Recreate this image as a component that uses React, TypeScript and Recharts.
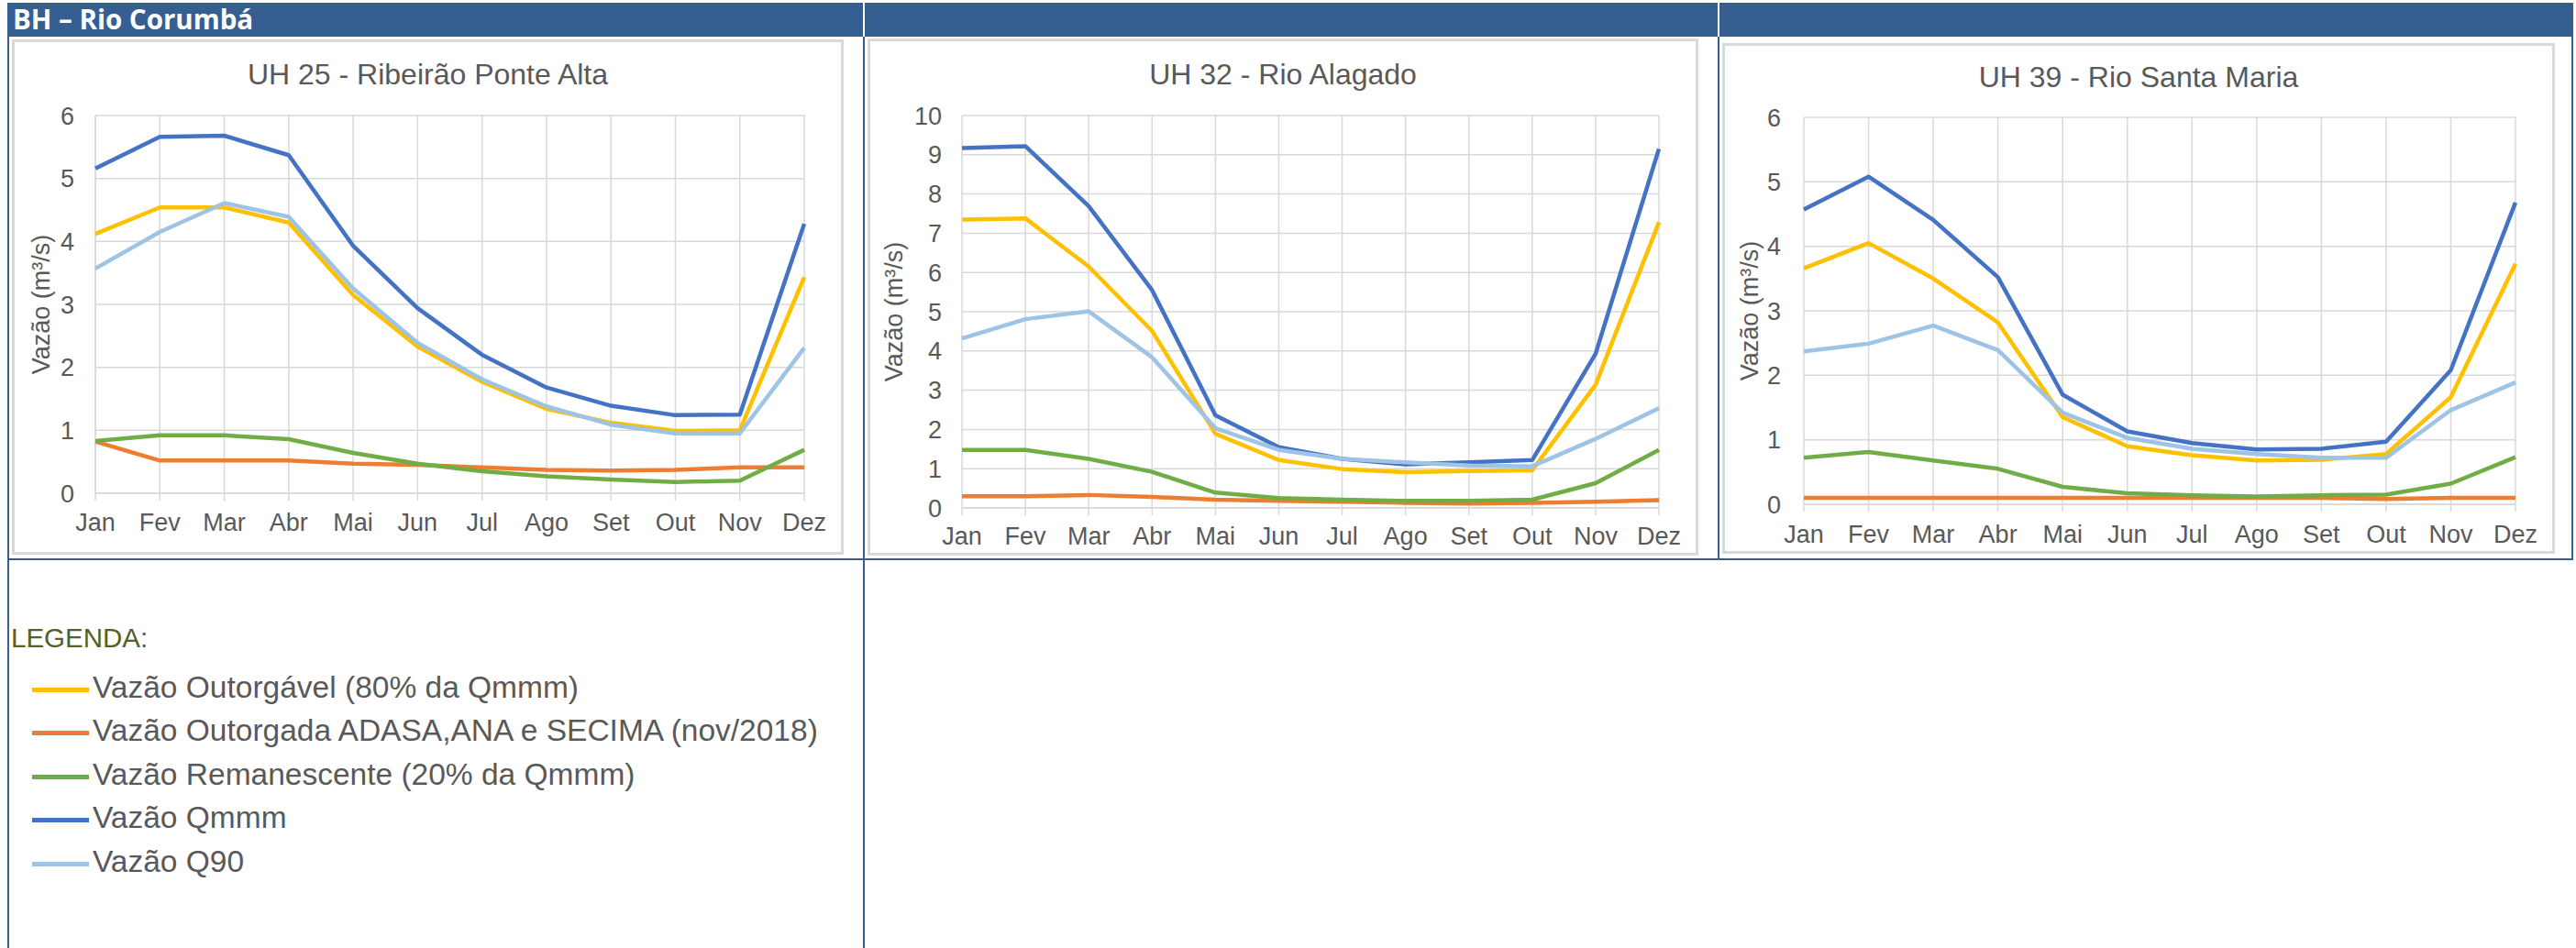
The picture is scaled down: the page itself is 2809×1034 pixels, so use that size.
import React from 'react';
import { LineChart, Line, XAxis, YAxis, CartesianGrid } from 'recharts';

// Months of the hydrological year
const months = ['Jan', 'Fev', 'Mar', 'Abr', 'Mai', 'Jun', 'Jul', 'Ago', 'Set', 'Out', 'Nov', 'Dez'];

// Series legend labels and colours
const seriesKeys = ['outorgavel', 'outorgada', 'remanescente', 'qmmm', 'q90'];
const seriesNames = [
  'Vazão Outorgável (80% da Qmmm)',
  'Vazão Outorgada ADASA,ANA e SECIMA (nov/2018)',
  'Vazão Remanescente (20% da Qmmm)',
  'Vazão Qmmm',
  'Vazão Q90',
];
const seriesColors = ['#FFC000', '#ED7D31', '#70AD47', '#4472C4', '#9DC3E6'];

// UH 25 - Ribeirão Ponte Alta (m³/s)
const uh25Outorgavel = [4.12, 4.54, 4.54, 4.3, 3.15, 2.33, 1.77, 1.34, 1.12, 0.99, 1.0, 3.43];
const uh25Outorgada = [0.82, 0.52, 0.52, 0.52, 0.47, 0.45, 0.41, 0.37, 0.36, 0.37, 0.41, 0.41];
const uh25Remanescente = [0.83, 0.92, 0.92, 0.86, 0.64, 0.47, 0.35, 0.27, 0.22, 0.18, 0.2, 0.69];
const uh25Qmmm = [5.16, 5.66, 5.68, 5.37, 3.93, 2.94, 2.2, 1.68, 1.39, 1.24, 1.25, 4.28];
const uh25Q90 = [3.57, 4.15, 4.61, 4.39, 3.25, 2.39, 1.81, 1.38, 1.09, 0.95, 0.95, 2.31];

// UH 32 - Rio Alagado (m³/s)
const uh32Outorgavel = [7.35, 7.38, 6.15, 4.51, 1.89, 1.22, 0.99, 0.91, 0.94, 0.96, 3.14, 7.28];
const uh32Outorgada = [0.3, 0.3, 0.33, 0.28, 0.21, 0.18, 0.16, 0.13, 0.11, 0.13, 0.16, 0.2];
const uh32Remanescente = [1.48, 1.48, 1.25, 0.92, 0.39, 0.25, 0.21, 0.18, 0.18, 0.21, 0.63, 1.48];
const uh32Qmmm = [9.17, 9.22, 7.69, 5.55, 2.36, 1.55, 1.25, 1.11, 1.16, 1.22, 3.93, 9.15];
const uh32Q90 = [4.32, 4.81, 5.01, 3.84, 2.03, 1.48, 1.25, 1.16, 1.08, 1.06, 1.76, 2.54];

// UH 39 - Rio Santa Maria (m³/s)
const uh39Outorgavel = [3.66, 4.05, 3.5, 2.82, 1.35, 0.9, 0.76, 0.68, 0.69, 0.78, 1.66, 3.73];
const uh39Outorgada = [0.1, 0.1, 0.1, 0.1, 0.1, 0.1, 0.1, 0.1, 0.1, 0.08, 0.1, 0.1];
const uh39Remanescente = [0.72, 0.81, 0.68, 0.55, 0.27, 0.17, 0.14, 0.12, 0.14, 0.15, 0.32, 0.73];
const uh39Qmmm = [4.57, 5.08, 4.41, 3.52, 1.7, 1.13, 0.95, 0.85, 0.86, 0.97, 2.08, 4.68];
const uh39Q90 = [2.37, 2.49, 2.77, 2.39, 1.42, 1.03, 0.86, 0.78, 0.72, 0.72, 1.46, 1.89];

// Axis ticks
const ticksSix = [0, 1, 2, 3, 4, 5, 6];
const ticksTen = [0, 1, 2, 3, 4, 5, 6, 7, 8, 9, 10];

const buildRows = (series: number[][]) =>
  months.map((m, i) => {
    const row: Record<string, any> = { month: m };
    seriesKeys.forEach((k, s) => {
      row[k] = series[s][i];
    });
    return row;
  });

const FONT = '"Liberation Sans", Arial, sans-serif';
const GRID = '#d9d9d9';
const TEXT = '#595959';
const FRAME = '#365F91';

type Box = { x: number; y: number; w: number; h: number };
type Plot = { l: number; t: number; r: number; b: number };

type ChartProps = {
  title: string;
  rows: Record<string, any>[];
  yMax: number;
  yTicks: number[];
  box: Box;
  plot: Plot;
  yTickGap: number;
  xTickGap: number;
  yTitleDist: number;
  titleCy: number;
};

function FlowChart({ title, rows, yMax, yTicks, box, plot, yTickGap, xTickGap, yTitleDist, titleCy }: ChartProps) {
  const yAxisWidth = plot.l - box.x;
  const xAxisHeight = box.y + box.h - plot.b;
  const tickStyle = { fill: TEXT, fontSize: 27, fontFamily: FONT };
  return (
    <>
      <div
        style={{
          position: 'absolute',
          left: box.x,
          top: box.y,
          width: box.w,
          height: box.h,
          border: `3px solid ${GRID}`,
          boxSizing: 'border-box',
          background: '#fff',
        }}
      />
      <div
        style={{
          position: 'absolute',
          left: box.x,
          width: box.w,
          top: titleCy - 20,
          height: 40,
          lineHeight: '40px',
          textAlign: 'center',
          fontFamily: FONT,
          fontSize: 32,
          color: TEXT,
          whiteSpace: 'nowrap',
        }}
      >
        {title}
      </div>
      <div
        style={{
          position: 'absolute',
          left: plot.l - yTitleDist,
          top: (plot.t + plot.b) / 2,
          transform: 'translate(-50%, -50%) rotate(-90deg)',
          fontFamily: FONT,
          fontSize: 27,
          color: TEXT,
          whiteSpace: 'nowrap',
        }}
      >
        Vazão (m³/s)
      </div>
      <div style={{ position: 'absolute', left: box.x, top: box.y }}>
        <LineChart
          width={box.w}
          height={box.h}
          data={rows}
          margin={{ top: plot.t - box.y, right: box.x + box.w - plot.r, bottom: 0, left: 0 }}
        >
          <CartesianGrid stroke={GRID} strokeWidth={1.5} vertical horizontal />
          <XAxis
            dataKey="month"
            interval={0}
            height={xAxisHeight}
            axisLine={{ stroke: GRID, strokeWidth: 1.5 }}
            tickLine={{ stroke: GRID, strokeWidth: 1.5 }}
            tickSize={8}
            tickMargin={xTickGap - 8}
            tick={tickStyle}
          />
          <YAxis
            type="number"
            domain={[0, yMax]}
            ticks={yTicks}
            width={yAxisWidth}
            axisLine={false}
            tickLine={false}
            tickSize={0}
            tickMargin={yTickGap}
            tick={tickStyle}
          />
          {seriesKeys.map((k, i) => (
            <Line
              key={k}
              type="linear"
              dataKey={k}
              stroke={seriesColors[i]}
              strokeWidth={4.5}
              strokeLinejoin="round"
              dot={false}
              activeDot={false}
              isAnimationActive={false}
            />
          ))}
        </LineChart>
      </div>
    </>
  );
}

const line = (left: number, top: number, width: number, height: number, color = FRAME) => (
  <div style={{ position: 'absolute', left, top, width, height, background: color }} />
);

export default function App() {
  const rows25 = buildRows([uh25Outorgavel, uh25Outorgada, uh25Remanescente, uh25Qmmm, uh25Q90]);
  const rows32 = buildRows([uh32Outorgavel, uh32Outorgada, uh32Remanescente, uh32Qmmm, uh32Q90]);
  const rows39 = buildRows([uh39Outorgavel, uh39Outorgada, uh39Remanescente, uh39Qmmm, uh39Q90]);
  const legendRowY = [752, 799, 847, 894, 942];

  return (
    <div
      style={{
        position: 'absolute',
        left: 0,
        top: 0,
        width: 2809,
        height: 1034,
        background: '#fff',
        overflow: 'hidden',
      }}
    >
      {/* header band */}
      <div
        style={{
          position: 'absolute',
          left: 8,
          top: 3,
          width: 2798,
          height: 37,
          background: FRAME,
        }}
      />
      <div
        style={{
          position: 'absolute',
          left: 14,
          top: 2,
          height: 37,
          lineHeight: '37px',
          fontFamily: '"Open Sans", sans-serif',
          fontWeight: 700,
          fontSize: 29.5,
          color: '#fff',
          whiteSpace: 'nowrap',
        }}
      >
        BH – Rio Corumbá
      </div>
      {line(941, 3, 2, 37, '#fff')}
      {line(1873, 3, 2, 37, '#fff')}

      {/* table grid */}
      {line(8, 40, 2, 994)}
      {line(941, 40, 2, 994)}
      {line(1873, 40, 2, 570)}
      {line(2804, 3, 2, 607)}
      {line(8, 609, 2798, 2)}

      <FlowChart
        title="UH 25 - Ribeirão Ponte Alta"
        rows={rows25}
        yMax={6}
        yTicks={ticksSix}
        box={{ x: 13, y: 43, w: 907, h: 562 }}
        plot={{ l: 104, t: 126, r: 877, b: 538 }}
        yTickGap={23}
        xTickGap={22}
        yTitleDist={59}
        titleCy={81}
      />
      <FlowChart
        title="UH 32 - Rio Alagado"
        rows={rows32}
        yMax={10}
        yTicks={ticksTen}
        box={{ x: 946, y: 42, w: 906, h: 564 }}
        plot={{ l: 1049, t: 126, r: 1809, b: 554 }}
        yTickGap={22}
        xTickGap={21}
        yTitleDist={74}
        titleCy={81}
      />
      <FlowChart
        title="UH 39 - Rio Santa Maria"
        rows={rows39}
        yMax={6}
        yTicks={ticksSix}
        box={{ x: 1878, y: 47, w: 908, h: 557 }}
        plot={{ l: 1967, t: 128, r: 2743, b: 550 }}
        yTickGap={25}
        xTickGap={23}
        yTitleDist={59}
        titleCy={84}
      />

      {/* legend */}
      <div
        style={{
          position: 'absolute',
          left: 12,
          top: 676,
          fontFamily: FONT,
          fontSize: 29.5,
          color: '#4F6228',
          whiteSpace: 'nowrap',
          lineHeight: '40px',
        }}
      >
        LEGENDA:
      </div>
      {seriesNames.map((name, i) => (
        <React.Fragment key={name}>
          <div
            style={{
              position: 'absolute',
              left: 35,
              top: legendRowY[i] - 2.5,
              width: 62,
              height: 5,
              background: seriesColors[i],
            }}
          />
          <div
            style={{
              position: 'absolute',
              left: 101,
              top: legendRowY[i] - 24,
              height: 44,
              lineHeight: '44px',
              fontFamily: FONT,
              fontSize: 33.5,
              color: TEXT,
              whiteSpace: 'nowrap',
            }}
          >
            {name}
          </div>
        </React.Fragment>
      ))}
    </div>
  );
}
